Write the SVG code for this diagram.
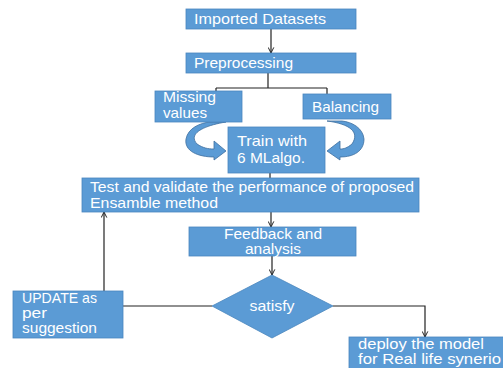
<svg xmlns="http://www.w3.org/2000/svg" width="503" height="368" viewBox="0 0 503 368">
<defs>
<style>
.box{fill:#5B9BD5;stroke:#4A86BE;stroke-width:0.8}
.t{font-family:"Liberation Sans","Open Sans",sans-serif;font-size:14.5px;fill:#ffffff}
.c{text-anchor:middle}
.ln{fill:none;stroke:#222;stroke-width:1.2}
.curv{fill:#5B9BD5;stroke:#3F6F9E;stroke-width:0.8}
</style>
<marker id="ah" viewBox="0 0 10 10" refX="9" refY="5" markerWidth="7" markerHeight="7" orient="auto" markerUnits="userSpaceOnUse">
<path d="M1,1 L9,5 L1,9" fill="none" stroke="#222" stroke-width="1.4"/>
</marker>
</defs>
<rect width="503" height="368" fill="#ffffff"/>
<g id="connectors">
<path class="ln" d="M271,29 V53" marker-end="url(#ah)"/>
<path class="ln" d="M268,73 V88 M216,88 H327 M216,88 V92 M327,88 V94"/>
<path class="ln" d="M270,173 V178"/>
<path class="ln" d="M271,212 V227" marker-end="url(#ah)"/>
<path class="ln" d="M272,256 V275" marker-end="url(#ah)"/>
<path class="ln" d="M212,306 H123"/>
<path class="ln" d="M104,291 V212" marker-end="url(#ah)"/>
<path class="ln" d="M333,306 H425 V337" marker-end="url(#ah)"/>
</g>
<g id="curve-left">
<path class="curv" d="M226,122 C202,126 188,134 197,144 C203,148 208,149 214,149 L214,141 L226,151 L214,160 L214,157 C198,157 184,151 186,139 C188,128 200,123 210,122 Z"/>
</g>
<g id="curve-right">
<path class="curv" d="M327,121 C350,124 360,132 352,144 C347,148 344,149 340,149 L340,141 L327,151 L340,160 L340,157 C354,157 364,151 364,139 C363,128 352,122 342,121 Z"/>
</g>
<g id="imported">
<rect class="box" x="186" y="9" width="170" height="20"/>
<text class="t" x="194" y="24" textLength="132" lengthAdjust="spacingAndGlyphs">Imported Datasets</text>
</g>
<g id="preprocessing">
<rect class="box" x="186" y="53" width="170" height="20"/>
<text class="t" x="194" y="68" textLength="99" lengthAdjust="spacingAndGlyphs">Preprocessing</text>
</g>
<g id="missing">
<rect class="box" x="155" y="91" width="87" height="31"/>
<text class="t" x="163" y="102" textLength="53" lengthAdjust="spacingAndGlyphs">Missing</text>
<text class="t" x="163" y="118" textLength="44" lengthAdjust="spacingAndGlyphs">values</text>
</g>
<g id="balancing">
<rect class="box" x="303" y="94" width="88" height="25"/>
<text class="t" x="312" y="112" textLength="67" lengthAdjust="spacingAndGlyphs">Balancing</text>
</g>
<g id="train">
<rect class="box" x="228" y="127" width="97" height="46"/>
<text class="t" x="237" y="146" textLength="70" lengthAdjust="spacingAndGlyphs">Train with</text>
<text class="t" x="237" y="163" textLength="68" lengthAdjust="spacingAndGlyphs">6 MLalgo.</text>
</g>
<g id="test">
<rect class="box" x="82" y="178" width="337" height="34"/>
<text class="t" x="90" y="192" textLength="324" lengthAdjust="spacingAndGlyphs">Test and validate the performance of proposed</text>
<text class="t" x="90" y="208" textLength="128" lengthAdjust="spacingAndGlyphs">Ensamble method</text>
</g>
<g id="feedback">
<rect class="box" x="189" y="227" width="167" height="29"/>
<text class="t c" x="273" y="239" textLength="98" lengthAdjust="spacingAndGlyphs">Feedback and</text>
<text class="t c" x="273" y="254" textLength="56" lengthAdjust="spacingAndGlyphs">analysis</text>
</g>
<g id="satisfy">
<polygon class="box" points="272,275 333,306 272,338 212,306"/>
<text class="t c" x="272" y="311" textLength="45" lengthAdjust="spacingAndGlyphs">satisfy</text>
</g>
<g id="update">
<rect class="box" x="13" y="291" width="110" height="47"/>
<text class="t" x="22" y="303" textLength="75" lengthAdjust="spacingAndGlyphs">UPDATE as</text>
<text class="t" x="22" y="318" textLength="25" lengthAdjust="spacingAndGlyphs">per</text>
<text class="t" x="22" y="333" textLength="75" lengthAdjust="spacingAndGlyphs">suggestion</text>
</g>
<g id="deploy">
<rect class="box" x="349" y="337" width="156" height="33"/>
<text class="t" x="358" y="349" textLength="126" lengthAdjust="spacingAndGlyphs">deploy the model</text>
<text class="t" x="358" y="364" textLength="143" lengthAdjust="spacingAndGlyphs">for Real life synerio</text>
</g>
</svg>
